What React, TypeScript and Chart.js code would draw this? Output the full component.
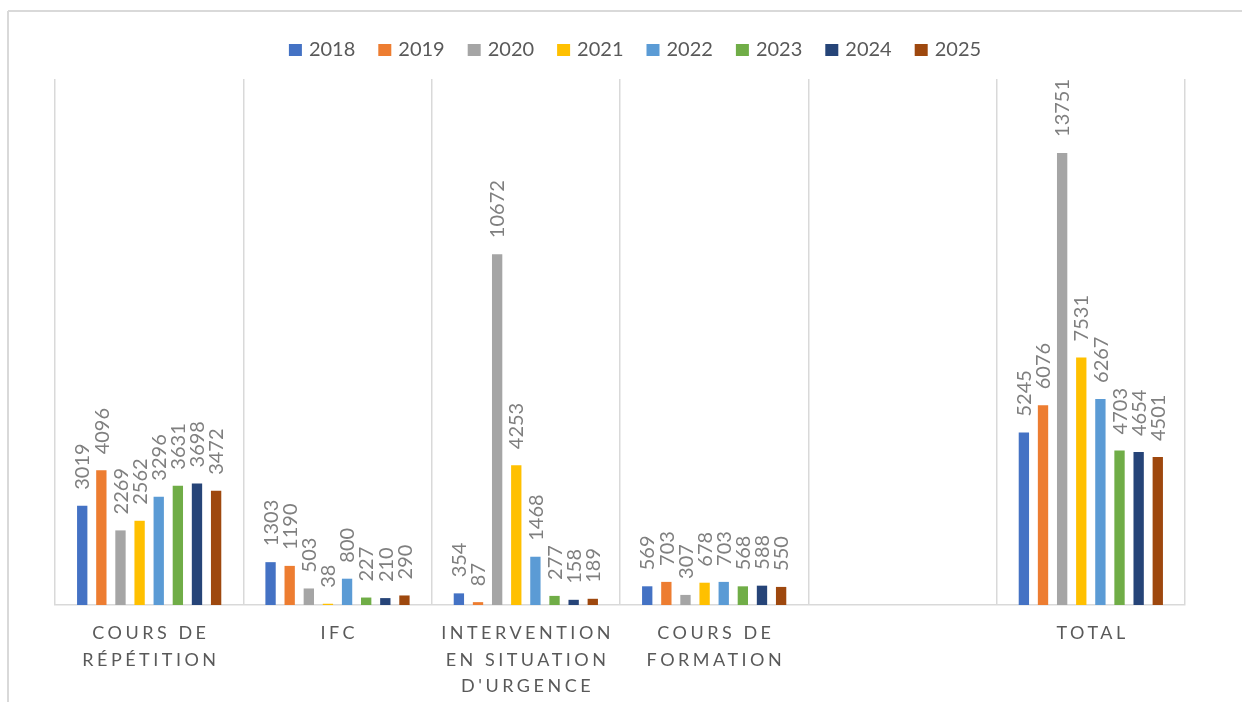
import { useEffect, useRef } from "react";
import { Chart, registerables } from "chart.js";

Chart.register(...registerables);

// ---- Data ----
const categories: string[][] = [
  ["COURS DE", "RÉPÉTITION"],
  ["IFC"],
  ["INTERVENTION", "EN SITUATION", "D'URGENCE"],
  ["COURS DE", "FORMATION"],
  [""],
  ["TOTAL"],
];

const years = ["2018", "2019", "2020", "2021", "2022", "2023", "2024", "2025"];
const colors = ["#4472C4", "#ED7D31", "#A5A5A5", "#FFC000", "#5B9BD5", "#70AD47", "#264478", "#9E480E"];

const v2018 = [3019, 1303, 354, 569, null, 5245];
const v2019 = [4096, 1190, 87, 703, null, 6076];
const v2020 = [2269, 503, 10672, 307, null, 13751];
const v2021 = [2562, 38, 4253, 678, null, 7531];
const v2022 = [3296, 800, 1468, 703, null, 6267];
const v2023 = [3631, 227, 277, 568, null, 4703];
const v2024 = [3698, 210, 158, 588, null, 4654];
const v2025 = [3472, 290, 189, 550, null, 4501];

const seriesValues = [v2018, v2019, v2020, v2021, v2022, v2023, v2024, v2025];

const FONT = "Lato, 'Open Sans', sans-serif";

const decoPlugin = {
  id: "deco",
  beforeDraw(chart: any) {
    const ctx = chart.ctx as CanvasRenderingContext2D;
    ctx.save();
    ctx.strokeStyle = "#d9d9d9";
    ctx.lineWidth = 2;
    ctx.beginPath();
    ctx.moveTo(8, 11);
    ctx.lineTo(chart.width, 11);
    ctx.moveTo(8, 11);
    ctx.lineTo(8, chart.height);
    ctx.stroke();
    ctx.restore();
  },
  afterDatasetsDraw(chart: any) {
    const ctx = chart.ctx as CanvasRenderingContext2D;
    ctx.save();
    ctx.font = `20px ${FONT}`;
    ctx.fillStyle = "#7f7f7f";
    ctx.textAlign = "left";
    ctx.textBaseline = "alphabetic";
    chart.data.datasets.forEach((ds: any, di: number) => {
      const meta = chart.getDatasetMeta(di);
      meta.data.forEach((el: any, i: number) => {
        const v = ds.data[i];
        if (v === null || v === undefined) return;
        ctx.save();
        ctx.translate(el.x, el.y - 16);
        ctx.rotate(-Math.PI / 2);
        ctx.fillText(String(v), 0, 7.2);
        ctx.restore();
      });
    });
    ctx.restore();
  },
  afterDraw(chart: any) {
    const ctx = chart.ctx as CanvasRenderingContext2D;
    ctx.save();
    // Legend
    ctx.font = `20px ${FONT}`;
    ctx.textAlign = "left";
    ctx.textBaseline = "alphabetic";
    const boxW = 13, boxH = 12, gapBT = 7, gapItems = 23;
    const widths = years.map((y) => ctx.measureText(y).width);
    const total = widths.reduce((a, w) => a + boxW + gapBT + w, 0) + gapItems * (years.length - 1);
    let x = 635 - total / 2;
    years.forEach((y, i) => {
      ctx.fillStyle = colors[i];
      ctx.fillRect(x, 44, boxW, boxH);
      ctx.fillStyle = "#595959";
      ctx.fillText(y, x + boxW + gapBT, 56);
      x += boxW + gapBT + widths[i] + gapItems;
    });

    // X-axis category labels with letter spacing
    const xScale = chart.scales.x;
    ctx.font = `18px ${FONT}`;
    ctx.fillStyle = "#595959";
    const spacing = 3.5;
    (ctx as any).letterSpacing = `${spacing}px`;
    ctx.textAlign = "left";
    categories.forEach((lines, i) => {
      const cx = xScale.getPixelForValue(i);
      lines.forEach((line, li) => {
        if (!line) return;
        const w = ctx.measureText(line).width - spacing;
        ctx.fillText(line, cx - w / 2, 639 + li * 26.5);
      });
    });
    (ctx as any).letterSpacing = "0px";
    ctx.restore();
  },
};

export default function App() {
  const ref = useRef<HTMLCanvasElement>(null);

  useEffect(() => {
    if (!ref.current) return;
    const chart = new Chart(ref.current, {
      type: "bar",
      data: {
        labels: categories.map((c) => c.join(" ")),
        datasets: years.map((y, i) => ({
          label: y,
          data: seriesValues[i] as any,
          backgroundColor: colors[i],
          borderWidth: 0,
          categoryPercentage: 0.8125,
          barPercentage: 0.54,
        })),
      },
      options: {
        animation: false,
        responsive: true,
        maintainAspectRatio: false,
        devicePixelRatio: 1,
        font: { family: FONT },
        layout: { padding: { left: 55, right: 57, top: 79, bottom: 97 } },
        plugins: {
          legend: { display: false },
          tooltip: { enabled: false },
          title: { display: false },
        },
        scales: {
          x: {
            offset: true,
            grid: { color: "#d9d9d9", lineWidth: 1.5, drawTicks: false, offset: true },
            border: { display: true, color: "#d9d9d9", width: 1.5 },
            ticks: { display: false },
          },
          y: {
            display: false,
            min: 0,
            max: 16000,
          },
        },
      } as any,
      plugins: [decoPlugin],
    });
    return () => chart.destroy();
  }, []);

  return (
    <div style={{ position: "fixed", left: 0, top: 0, width: 1242, height: 702, background: "#fff" }}>
      <canvas ref={ref} />
    </div>
  );
}
